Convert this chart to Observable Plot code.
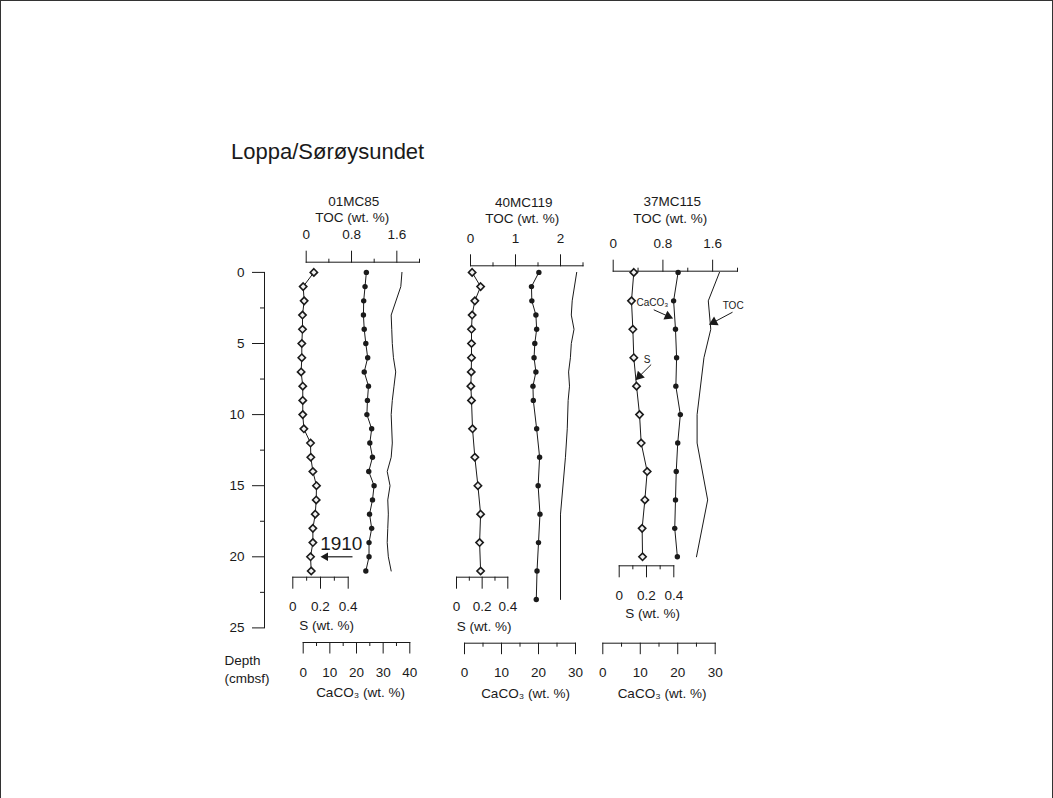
<!DOCTYPE html>
<html>
<head>
<meta charset="utf-8">
<script src="https://cdn.jsdelivr.net/npm/d3@7"></script>
<script src="https://cdn.jsdelivr.net/npm/@observablehq/plot@0.6"></script>
<style>
  body { margin: 0; background: #fff; }
  #fig { position: relative; width: 1053px; height: 798px; overflow: hidden;
         font-family: "Liberation Sans", Arial, Helvetica, sans-serif; color: #1a1a1a; background: #fff; }
  #fig svg { position: absolute; left: 0; top: 0; }
  #border { position: absolute; left: 0; top: 0; width: 1053px; height: 798px; box-sizing: border-box;
            border-left: 1px solid #333; border-top: 1px solid #333; border-right: 1px solid #333; }
  #title { position: absolute; left: 231px; top: 141px; font-size: 22px; line-height: 22px; white-space: nowrap; }
</style>
</head>
<body>
<div id="fig">
  <div id="border"></div>
  <div id="title">Loppa/Sørøysundet</div>
</div>
<script>
// ---- Core 01MC85 ----
const depth01 = [0, 1, 2, 3, 4, 5, 6, 7, 8, 9, 10, 11, 12, 13, 14, 15, 16, 17, 18, 19, 20, 21];
const s01 = [0.152, 0.075, 0.082, 0.070, 0.070, 0.065, 0.065, 0.060, 0.072, 0.072, 0.072, 0.080,
             0.128, 0.130, 0.145, 0.171, 0.169, 0.162, 0.145, 0.145, 0.128, 0.133];
const caco3_01 = [23.7, 23.2, 22.7, 22.6, 22.9, 23.5, 24.2, 22.9, 24.5, 24.1, 23.9, 25.7,
                  25.0, 26.0, 24.6, 26.6, 26.0, 24.9, 25.7, 24.7, 24.7, 23.5];
const tocDepth01 = [0, 1, 3, 4, 5, 6, 7, 8, 9, 10, 12, 13, 14, 15, 16, 17, 18, 19, 20, 21];
const toc01 = [1.69, 1.67, 1.50, 1.51, 1.52, 1.54, 1.58, 1.55, 1.52, 1.50, 1.52, 1.50,
               1.43, 1.48, 1.44, 1.45, 1.44, 1.43, 1.45, 1.50];

// ---- Core 40MC119 ----
const depthS40 = [0, 1, 2, 3, 4, 5, 6, 7, 8, 9, 11, 13, 15, 17, 19, 21];
const s40 = [0.122, 0.188, 0.143, 0.122, 0.117, 0.117, 0.117, 0.115, 0.112, 0.117,
             0.125, 0.143, 0.167, 0.188, 0.180, 0.188];
const depthC40 = [0, 1, 2, 3, 4, 5, 6, 7, 8, 9, 11, 13, 15, 17, 19, 21, 23];
const caco3_40 = [20.1, 18.1, 18.2, 19.3, 19.5, 19.0, 18.8, 19.3, 18.5, 18.6,
                  19.5, 20.3, 19.9, 20.4, 20.0, 19.6, 19.4];
const tocDepth40 = [0, 2, 3, 4, 5, 6, 7, 8, 9, 11, 13, 17, 23];
const toc40 = [2.36, 2.26, 2.24, 2.30, 2.24, 2.22, 2.18, 2.20, 2.17, 2.15, 2.11, 2.00, 2.00];

// ---- Core 37MC115 ----
const depth37 = [0, 2, 4, 6, 8, 10, 12, 14, 16, 18, 20];
const s37 = [0.107, 0.090, 0.100, 0.107, 0.127, 0.149, 0.161, 0.205, 0.188, 0.168, 0.171];
const caco3_37 = [20.1, 18.9, 19.4, 19.7, 19.5, 20.7, 20.0, 19.6, 19.4, 19.2, 19.9];
const tocDepth37 = [0, 2, 4, 6, 10, 12, 16, 20];
const toc37 = [1.71, 1.53, 1.57, 1.46, 1.35, 1.35, 1.52, 1.34];

// ---- Axis ticks ----
const depthTicks = [0, 5, 10, 15, 20, 25];
const depthMinor = [2.5, 7.5, 12.5, 17.5, 22.5];
const tocTicks08 = [0, 0.8, 1.6];
const tocMinor08 = [0.4, 1.2, 2.0];
const tocTicks1 = [0, 1, 2];
const tocMinor1 = [0.5, 1.5, 2.5];
const sTicks = [0, 0.2, 0.4];
const sMinor = [0.1, 0.3];
const caTicks40 = [0, 10, 20, 30, 40];
const caMinor40 = [5, 15, 25, 35];
const caTicks30 = [0, 10, 20, 30];
const caMinor30 = [5, 15, 25];

// ---- Annotations (in each series' own units; depth in cm) ----
const marker1910 = [{label: "1910", s: 0.35, depth: 19.1}];
const arrow1910 = [{s1: 0.431, s2: 0.236, depth: 20}];
const calloutCaCO3 = [{label: "CaCO₃", ca: 9.0, depth: 2.17, ca1: 13.6, d1: 2.63, ca2: 17.4, d2: 3.08}];
const calloutTOC = [{label: "TOC", toc: 1.93, depth: 2.33, t1: 1.92, d1: 2.80, t2: 1.62, d2: 3.50}];
const calloutS = [{label: "S", s: 0.205, depth: 6.13, s1: 0.234, d1: 6.48, s2: 0.148, d2: 7.30}];

// ---- Drawing ----
const W = 1053, H = 798;
const INK = "#1a1a1a";
const FONT = '"Liberation Sans", Arial, Helvetica, sans-serif';
const depthRange = [271.9, 627.4];
const fig = document.getElementById("fig");
const blank = () => "";

const rows = (depths, values) => depths.map((d, i) => ({d, v: values[i]}));
const style = {background: "none", fontFamily: FONT, fontSize: "13.5px", color: INK, overflow: "visible"};

// One overlaid layer per measured variable: the plot frame is the variable's own axis strip.
function layer(ax, marks) {
  const el = Plot.plot({
    width: W, height: H,
    marginLeft: ax.x0, marginRight: W - ax.x1,
    marginTop: ax.side === "top" ? ax.base : 0,
    marginBottom: ax.side === "bottom" ? H - ax.base : 0,
    x: {domain: ax.domain},
    y: {domain: [0, 25], range: depthRange, axis: null},
    style,
    marks: [
      Plot.frame({anchor: ax.side, stroke: INK}),
      Plot.axisX({anchor: ax.side, ticks: ax.major, tickSize: ax.tick, tickPadding: ax.pad,
                  tickFormat: d => `${d}`, label: null, stroke: INK}),
      Plot.axisX({anchor: ax.side, ticks: ax.minor, tickSize: 4, tickFormat: blank, label: null, stroke: INK}),
      ...marks
    ]
  });
  fig.appendChild(el);
}

const tocLine = data => Plot.line(data, {x: "v", y: "d", stroke: INK, strokeWidth: 1});
const sMarks = data => [
  Plot.line(data, {x: "v", y: "d", stroke: INK, strokeWidth: 1}),
  Plot.dot(data, {x: "v", y: "d", symbol: "diamond2", r: 3.3, fill: "#f2f2f2", stroke: INK, strokeWidth: 1.6})
];
const caMarks = data => [
  Plot.line(data, {x: "v", y: "d", stroke: INK, strokeWidth: 1}),
  Plot.dot(data, {x: "v", y: "d", r: 2.7, fill: INK, stroke: null})
];
const label = (text, frameAnchor, dx, dy, fontSize = 13.5) =>
  Plot.text([text], {frameAnchor, dx, dy, fontSize, lineAnchor: "middle", fill: INK});

// Depth axis
fig.appendChild(Plot.plot({
  width: W, height: H,
  marginLeft: 264, marginRight: W - 300,
  marginTop: depthRange[0], marginBottom: H - depthRange[1],
  y: {domain: [0, 25], range: depthRange},
  style,
  marks: [
    Plot.frame({anchor: "left", stroke: INK}),
    Plot.axisY({anchor: "left", ticks: depthTicks, tickSize: 12, tickPadding: 8,
                tickFormat: d => `${d}`, label: null, stroke: INK}),
    Plot.axisY({anchor: "left", ticks: depthMinor, tickSize: 4, tickFormat: blank, label: null, stroke: INK}),
    Plot.text(["Depth\n(cmbsf)"], {frameAnchor: "bottom-left", dx: -40, dy: 25, textAnchor: "start",
                                   lineAnchor: "top", lineHeight: 1.31, fontSize: 13.5, fill: INK})
  ]
}));

// 01MC85
layer({x0: 305.7, x1: 419, domain: [0, 2.0], base: 261.7, side: "top",
       major: tocTicks08, minor: tocMinor08, tick: 12, pad: 11},
      [tocLine(rows(tocDepth01, toc01)), label("01MC85", "top", -9, -61), label("TOC (wt. %)", "top", -10.7, -44.4)]);
layer({x0: 292.3, x1: 347.7, domain: [0, 0.4], base: 576.7, side: "bottom",
       major: sTicks, minor: sMinor, tick: 12, pad: 12.5},
      [...sMarks(rows(depth01, s01)), label("S (wt. %)", "bottom", 6, 48.3),
       Plot.link(arrow1910, {x1: "s1", x2: "s2", y1: "depth", y2: "depth", stroke: INK, strokeWidth: 1.2}),
       Plot.dot(arrow1910, {x: "s2", y: "depth", symbol: "triangle", r: 3.2, rotate: 270, fill: INK, stroke: null}),
       Plot.text(marker1910, {x: "s", y: "depth", text: "label", fontSize: 19, fill: INK})]);
layer({x0: 302.7, x1: 409.3, domain: [0, 40], base: 642, side: "bottom",
       major: caTicks40, minor: caMinor40, tick: 11.5, pad: 13},
      [...caMarks(rows(depth01, caco3_01)), label("CaCO₃ (wt. %)", "bottom", 4, 50)]);

// 40MC119
layer({x0: 470, x1: 582.5, domain: [0, 2.5], base: 265.3, side: "top",
       major: tocTicks1, minor: tocMinor1, tick: 12, pad: 11},
      [tocLine(rows(tocDepth40, toc40)), label("40MC119", "top", -3, -63.6), label("TOC (wt. %)", "top", -4.5, -47)]);
layer({x0: 456, x1: 507.3, domain: [0, 0.4], base: 576.7, side: "bottom",
       major: sTicks, minor: sMinor, tick: 12, pad: 12.5},
      [...sMarks(rows(depthS40, s40)), label("S (wt. %)", "bottom", 2, 49.3)]);
layer({x0: 464, x1: 575, domain: [0, 30], base: 642.7, side: "bottom",
       major: caTicks30, minor: caMinor30, tick: 11.5, pad: 13},
      [...caMarks(rows(depthC40, caco3_40)), label("CaCO₃ (wt. %)", "bottom", 5.5, 50)]);

// 37MC115
layer({x0: 612.7, x1: 737, domain: [0, 2.0], base: 270.7, side: "top",
       major: tocTicks08, minor: tocMinor08, tick: 12, pad: 11},
      [tocLine(rows(tocDepth37, toc37)), label("37MC115", "top", -3, -69.5), label("TOC (wt. %)", "top", -5, -52.4),
       Plot.text(calloutTOC, {x: "toc", y: "depth", text: "label", fontSize: 10, fill: INK}),
       Plot.link(calloutTOC, {x1: "t1", y1: "d1", x2: "t2", y2: "d2", stroke: INK, strokeWidth: 1}),
       Plot.dot(calloutTOC, {x: "t2", y: "d2", symbol: "triangle", r: 3.6, rotate: 242, fill: INK, stroke: null})]);
layer({x0: 618.7, x1: 673.3, domain: [0, 0.4], base: 565.3, side: "bottom",
       major: sTicks, minor: sMinor, tick: 12, pad: 12.5},
      [...sMarks(rows(depth37, s37)), label("S (wt. %)", "bottom", 6, 48),
       Plot.text(calloutS, {x: "s", y: "depth", text: "label", fontSize: 10, fill: INK}),
       Plot.link(calloutS, {x1: "s1", y1: "d1", x2: "s2", y2: "d2", stroke: INK, strokeWidth: 1}),
       Plot.dot(calloutS, {x: "s2", y: "d2", symbol: "triangle", r: 3.6, rotate: 224, fill: INK, stroke: null})]);
layer({x0: 602.3, x1: 714.7, domain: [0, 30], base: 642.7, side: "bottom",
       major: caTicks30, minor: caMinor30, tick: 11.5, pad: 13},
      [...caMarks(rows(depth37, caco3_37)), label("CaCO₃ (wt. %)", "bottom", 3, 50),
       Plot.text(calloutCaCO3, {x: "ca", y: "depth", text: "label", fontSize: 10, textAnchor: "start", fill: INK}),
       Plot.link(calloutCaCO3, {x1: "ca1", y1: "d1", x2: "ca2", y2: "d2", stroke: INK, strokeWidth: 1}),
       Plot.dot(calloutCaCO3, {x: "ca2", y: "d2", symbol: "triangle", r: 3.6, rotate: 114, fill: INK, stroke: null})]);
</script>
</body>
</html>
